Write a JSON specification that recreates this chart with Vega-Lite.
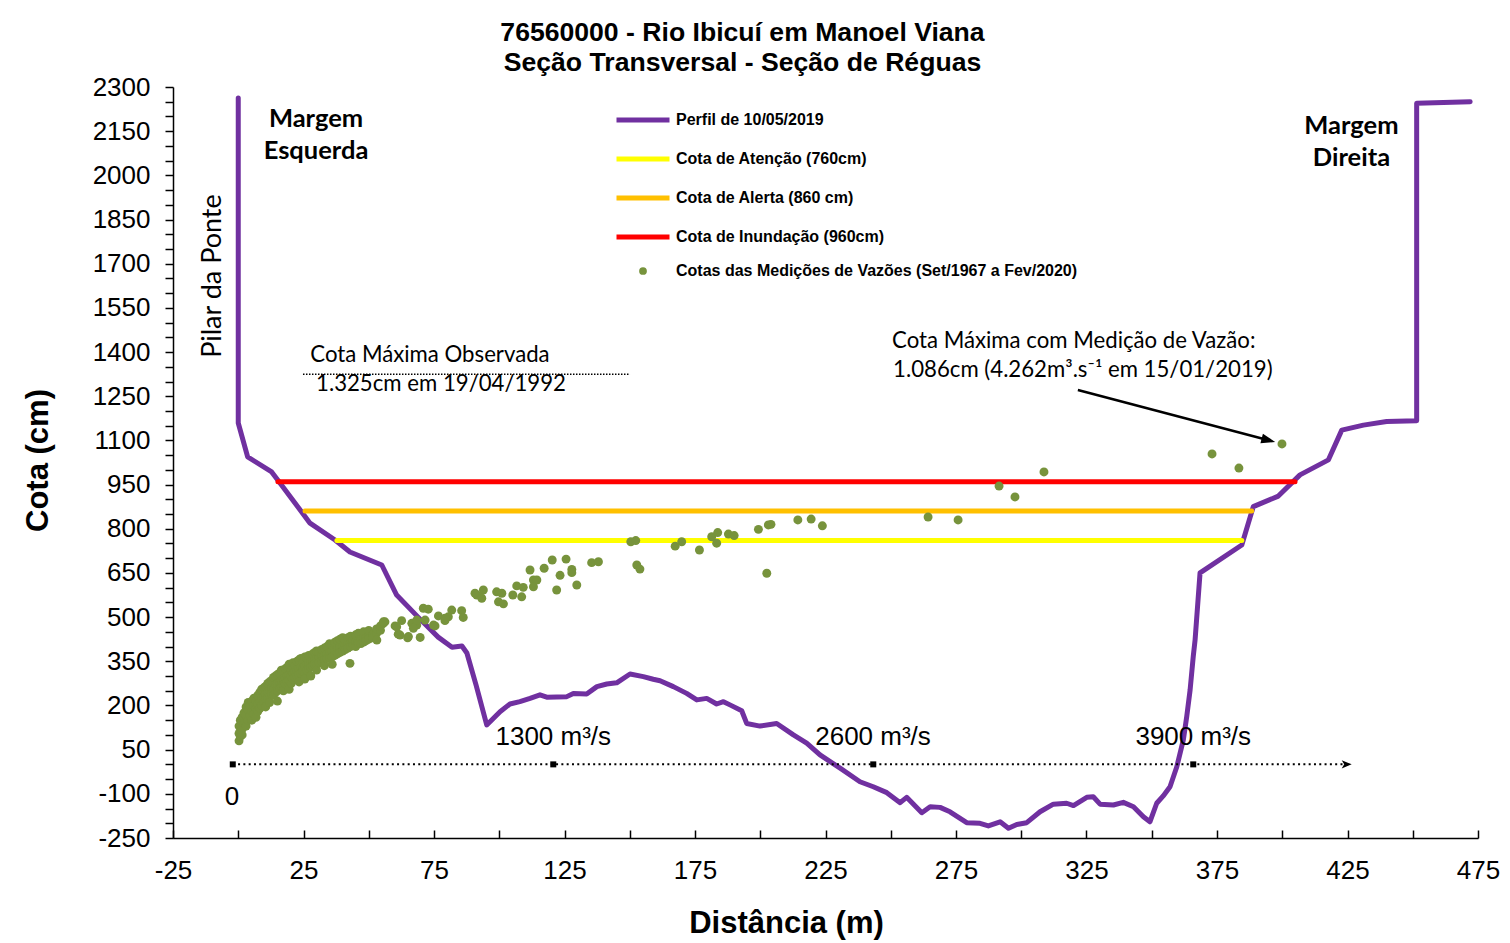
{
"$schema": "https://vega.github.io/schema/vega-lite/v6.json",
"width": 1305, "height": 751,
"autosize": {"type": "none"},
"padding": {"left": 173, "top": 87, "right": 32, "bottom": 105},
"background": "white",
"config": {"view": {"stroke": null}, "font": "Liberation Sans"},
"title": {"text": ["76560000 - Rio Ibicuí em Manoel Viana", "Seção Transversal - Seção de Réguas"], "font": "Liberation Sans", "fontSize": 26.6, "fontWeight": "bold", "color": "black", "anchor": "middle", "dx": -83, "lineHeight": 30, "offset": -3},
"datasets": {
"linhas": [
{"s":"Perfil de 10/05/2019","i":1,"x":0,"y":2263},{"s":"Perfil de 10/05/2019","i":2,"x":0,"y":1159},{"s":"Perfil de 10/05/2019","i":3,"x":3.6,"y":1044},{"s":"Perfil de 10/05/2019","i":4,"x":12.8,"y":993},{"s":"Perfil de 10/05/2019","i":5,"x":15.2,"y":965},{"s":"Perfil de 10/05/2019","i":6,"x":27.5,"y":819},{"s":"Perfil de 10/05/2019","i":7,"x":37.1,"y":762},{"s":"Perfil de 10/05/2019","i":8,"x":42.8,"y":721},{"s":"Perfil de 10/05/2019","i":9,"x":55,"y":677},{"s":"Perfil de 10/05/2019","i":10,"x":60.7,"y":575},{"s":"Perfil de 10/05/2019","i":11,"x":68.9,"y":500},{"s":"Perfil de 10/05/2019","i":12,"x":76.6,"y":432},{"s":"Perfil de 10/05/2019","i":13,"x":81.9,"y":398},{"s":"Perfil de 10/05/2019","i":14,"x":85.7,"y":402},{"s":"Perfil de 10/05/2019","i":15,"x":87.6,"y":378},{"s":"Perfil de 10/05/2019","i":16,"x":91.1,"y":270},{"s":"Perfil de 10/05/2019","i":17,"x":95.2,"y":134},{"s":"Perfil de 10/05/2019","i":18,"x":100.3,"y":179},{"s":"Perfil de 10/05/2019","i":19,"x":104.1,"y":205},{"s":"Perfil de 10/05/2019","i":20,"x":107.9,"y":213},{"s":"Perfil de 10/05/2019","i":21,"x":111.8,"y":224},{"s":"Perfil de 10/05/2019","i":22,"x":115.6,"y":236},{"s":"Perfil de 10/05/2019","i":23,"x":118.2,"y":228},{"s":"Perfil de 10/05/2019","i":24,"x":125.9,"y":230},{"s":"Perfil de 10/05/2019","i":25,"x":128.4,"y":241},{"s":"Perfil de 10/05/2019","i":26,"x":133.5,"y":239},{"s":"Perfil de 10/05/2019","i":27,"x":137.4,"y":264},{"s":"Perfil de 10/05/2019","i":28,"x":141.2,"y":273},{"s":"Perfil de 10/05/2019","i":29,"x":145,"y":277},{"s":"Perfil de 10/05/2019","i":30,"x":150.1,"y":307},{"s":"Perfil de 10/05/2019","i":31,"x":155.2,"y":298},{"s":"Perfil de 10/05/2019","i":32,"x":159,"y":289},{"s":"Perfil de 10/05/2019","i":33,"x":161.6,"y":284},{"s":"Perfil de 10/05/2019","i":34,"x":166.7,"y":264},{"s":"Perfil de 10/05/2019","i":35,"x":171.8,"y":241},{"s":"Perfil de 10/05/2019","i":36,"x":175.7,"y":219},{"s":"Perfil de 10/05/2019","i":37,"x":179.5,"y":224},{"s":"Perfil de 10/05/2019","i":38,"x":183.3,"y":205},{"s":"Perfil de 10/05/2019","i":39,"x":185.9,"y":213},{"s":"Perfil de 10/05/2019","i":40,"x":188.4,"y":202},{"s":"Perfil de 10/05/2019","i":41,"x":192.9,"y":182},{"s":"Perfil de 10/05/2019","i":42,"x":194.8,"y":139},{"s":"Perfil de 10/05/2019","i":43,"x":199.9,"y":130},{"s":"Perfil de 10/05/2019","i":44,"x":206.3,"y":139},{"s":"Perfil de 10/05/2019","i":45,"x":212.7,"y":100},{"s":"Perfil de 10/05/2019","i":46,"x":217.8,"y":72},{"s":"Perfil de 10/05/2019","i":47,"x":222.9,"y":32},{"s":"Perfil de 10/05/2019","i":48,"x":230.6,"y":-13},{"s":"Perfil de 10/05/2019","i":49,"x":238.2,"y":-59},{"s":"Perfil de 10/05/2019","i":50,"x":243.3,"y":-76},{"s":"Perfil de 10/05/2019","i":51,"x":248.5,"y":-96},{"s":"Perfil de 10/05/2019","i":52,"x":253.6,"y":-130},{"s":"Perfil de 10/05/2019","i":53,"x":256.1,"y":-112},{"s":"Perfil de 10/05/2019","i":54,"x":261.9,"y":-164},{"s":"Perfil de 10/05/2019","i":55,"x":265.1,"y":-144},{"s":"Perfil de 10/05/2019","i":56,"x":268.9,"y":-146},{"s":"Perfil de 10/05/2019","i":57,"x":272.7,"y":-161},{"s":"Perfil de 10/05/2019","i":58,"x":279.1,"y":-198},{"s":"Perfil de 10/05/2019","i":59,"x":284.2,"y":-200},{"s":"Perfil de 10/05/2019","i":60,"x":287.4,"y":-209},{"s":"Perfil de 10/05/2019","i":61,"x":291.9,"y":-195},{"s":"Perfil de 10/05/2019","i":62,"x":295.1,"y":-217},{"s":"Perfil de 10/05/2019","i":63,"x":298.3,"y":-204},{"s":"Perfil de 10/05/2019","i":64,"x":302.1,"y":-198},{"s":"Perfil de 10/05/2019","i":65,"x":307.2,"y":-161},{"s":"Perfil de 10/05/2019","i":66,"x":312.3,"y":-135},{"s":"Perfil de 10/05/2019","i":67,"x":317.4,"y":-132},{"s":"Perfil de 10/05/2019","i":68,"x":320,"y":-140},{"s":"Perfil de 10/05/2019","i":69,"x":325.1,"y":-112},{"s":"Perfil de 10/05/2019","i":70,"x":327.6,"y":-110},{"s":"Perfil de 10/05/2019","i":71,"x":330.2,"y":-135},{"s":"Perfil de 10/05/2019","i":72,"x":335.3,"y":-138},{"s":"Perfil de 10/05/2019","i":73,"x":339.1,"y":-129},{"s":"Perfil de 10/05/2019","i":74,"x":343,"y":-144},{"s":"Perfil de 10/05/2019","i":75,"x":346.8,"y":-178},{"s":"Perfil de 10/05/2019","i":76,"x":349.3,"y":-195},{"s":"Perfil de 10/05/2019","i":77,"x":351.9,"y":-132},{"s":"Perfil de 10/05/2019","i":78,"x":354.4,"y":-107},{"s":"Perfil de 10/05/2019","i":79,"x":357,"y":-76},{"s":"Perfil de 10/05/2019","i":80,"x":359.6,"y":-8},{"s":"Perfil de 10/05/2019","i":81,"x":362.1,"y":83},{"s":"Perfil de 10/05/2019","i":82,"x":363.4,"y":162},{"s":"Perfil de 10/05/2019","i":83,"x":364.7,"y":253},{"s":"Perfil de 10/05/2019","i":84,"x":365.9,"y":366},{"s":"Perfil de 10/05/2019","i":85,"x":366.6,"y":422},{"s":"Perfil de 10/05/2019","i":86,"x":368.5,"y":650},{"s":"Perfil de 10/05/2019","i":87,"x":384.5,"y":745},{"s":"Perfil de 10/05/2019","i":88,"x":388.9,"y":875},{"s":"Perfil de 10/05/2019","i":89,"x":398.5,"y":911},{"s":"Perfil de 10/05/2019","i":90,"x":406.8,"y":983},{"s":"Perfil de 10/05/2019","i":91,"x":417.7,"y":1034},{"s":"Perfil de 10/05/2019","i":92,"x":422.8,"y":1135},{"s":"Perfil de 10/05/2019","i":93,"x":431.1,"y":1152},{"s":"Perfil de 10/05/2019","i":94,"x":440,"y":1164},{"s":"Perfil de 10/05/2019","i":95,"x":451.5,"y":1167},{"s":"Perfil de 10/05/2019","i":96,"x":451.5,"y":2245},{"s":"Perfil de 10/05/2019","i":97,"x":472,"y":2250},
{"s":"Cota de Atenção (760cm)","i":1,"x":37.8,"y":760},{"s":"Cota de Atenção (760cm)","i":2,"x":384.5,"y":760},
{"s":"Cota de Alerta (860 cm)","i":1,"x":25.6,"y":860},{"s":"Cota de Alerta (860 cm)","i":2,"x":388.3,"y":860},
{"s":"Cota de Inundação (960cm)","i":1,"x":15.2,"y":960},{"s":"Cota de Inundação (960cm)","i":2,"x":404.9,"y":960}
],
"pontos": [
{"x":0.3,"y":80},{"x":0.3,"y":105},{"x":0.3,"y":130},{"x":0.8,"y":95},{"x":0.8,"y":150},{"x":1.5,"y":120},{"x":1.5,"y":160},{"x":1.5,"y":100},{"x":2.2,"y":140},{"x":2.2,"y":175},{"x":3,"y":130},{"x":3,"y":165},{"x":3,"y":195},{"x":3.8,"y":150},{"x":3.8,"y":185},{"x":3.8,"y":210},{"x":4.5,"y":165},{"x":4.5,"y":200},{"x":5.2,"y":180},{"x":5.2,"y":150},{"x":5.2,"y":215},{"x":6,"y":170},{"x":6,"y":200},{"x":6,"y":225},{"x":6.8,"y":190},{"x":6.8,"y":215},{"x":6.8,"y":160},{"x":7.5,"y":205},{"x":7.5,"y":235},{"x":7.5,"y":180},{"x":8.3,"y":215},{"x":8.3,"y":245},{"x":8.3,"y":190},{"x":9,"y":225},{"x":9,"y":200},{"x":9,"y":255},{"x":9.8,"y":230},{"x":9.8,"y":210},{"x":9.8,"y":260},{"x":10.5,"y":240},{"x":10.5,"y":220},{"x":10.5,"y":265},{"x":10.5,"y":195},{"x":11.3,"y":245},{"x":11.3,"y":225},{"x":11.3,"y":275},{"x":12,"y":250},{"x":12,"y":230},{"x":12,"y":280},{"x":12,"y":210},{"x":12.8,"y":260},{"x":12.8,"y":240},{"x":12.8,"y":285},{"x":13.5,"y":255},{"x":13.5,"y":235},{"x":13.5,"y":295},{"x":14.3,"y":270},{"x":14.3,"y":245},{"x":14.3,"y":300},{"x":15,"y":275},{"x":15,"y":250},{"x":15,"y":305},{"x":15,"y":215},{"x":15.8,"y":280},{"x":15.8,"y":260},{"x":15.8,"y":310},{"x":16.5,"y":285},{"x":16.5,"y":265},{"x":16.5,"y":320},{"x":17.3,"y":290},{"x":17.3,"y":270},{"x":17.3,"y":250},{"x":18,"y":295},{"x":18,"y":275},{"x":18,"y":325},{"x":18.8,"y":300},{"x":18.8,"y":280},{"x":18.8,"y":330},{"x":19.5,"y":305},{"x":19.5,"y":285},{"x":19.5,"y":340},{"x":19.5,"y":255},{"x":20.3,"y":300},{"x":20.3,"y":320},{"x":20.3,"y":275},{"x":21,"y":310},{"x":21,"y":290},{"x":21,"y":345},{"x":21.8,"y":315},{"x":21.8,"y":295},{"x":21.8,"y":335},{"x":22.5,"y":320},{"x":22.5,"y":300},{"x":22.5,"y":350},{"x":23.3,"y":325},{"x":23.3,"y":305},{"x":23.3,"y":355},{"x":23.3,"y":280},{"x":24,"y":330},{"x":24,"y":310},{"x":24,"y":360},{"x":24.8,"y":330},{"x":24.8,"y":315},{"x":24.8,"y":345},{"x":25.5,"y":335},{"x":25.5,"y":310},{"x":25.5,"y":365},{"x":25.5,"y":290},{"x":26.3,"y":340},{"x":26.3,"y":320},{"x":26.3,"y":360},{"x":27,"y":345},{"x":27,"y":325},{"x":27,"y":370},{"x":27.8,"y":350},{"x":27.8,"y":330},{"x":27.8,"y":300},{"x":28.5,"y":350},{"x":28.5,"y":335},{"x":28.5,"y":375},{"x":29.3,"y":355},{"x":29.3,"y":340},{"x":29.3,"y":380},{"x":30,"y":360},{"x":30,"y":340},{"x":30,"y":385},{"x":30,"y":320},{"x":31,"y":365},{"x":31,"y":345},{"x":31,"y":380},{"x":32,"y":370},{"x":32,"y":350},{"x":32,"y":390},{"x":33,"y":370},{"x":33,"y":355},{"x":33,"y":395},{"x":33,"y":335},{"x":34,"y":375},{"x":34,"y":360},{"x":34,"y":400},{"x":35,"y":380},{"x":35,"y":360},{"x":35,"y":410},{"x":36,"y":385},{"x":36,"y":365},{"x":36,"y":405},{"x":36,"y":340},{"x":37,"y":390},{"x":37,"y":370},{"x":37,"y":415},{"x":38,"y":395},{"x":38,"y":375},{"x":38,"y":420},{"x":39,"y":400},{"x":39,"y":380},{"x":39,"y":425},{"x":40,"y":400},{"x":40,"y":385},{"x":40,"y":430},{"x":41,"y":405},{"x":41,"y":390},{"x":41,"y":420},{"x":42,"y":410},{"x":42,"y":395},{"x":42,"y":430},{"x":42.8,"y":343},{"x":43,"y":410},{"x":43,"y":400},{"x":43,"y":435},{"x":44,"y":415},{"x":44,"y":405},{"x":44,"y":425},{"x":45,"y":415},{"x":45,"y":400},{"x":45,"y":440},{"x":46,"y":420},{"x":46,"y":410},{"x":46,"y":445},{"x":47,"y":425},{"x":47,"y":410},{"x":48,"y":430},{"x":48,"y":415},{"x":48,"y":450},{"x":49,"y":430},{"x":49,"y":420},{"x":50,"y":435},{"x":50,"y":425},{"x":50,"y":455},{"x":51.5,"y":440},{"x":51.5,"y":430},{"x":53,"y":445},{"x":53,"y":460},{"x":54.5,"y":455},{"x":54.5,"y":470},{"x":55.5,"y":478},
{"x":56.2,"y":484},{"x":60.1,"y":470},{"x":61.3,"y":442},{"x":62.6,"y":488},{"x":64.9,"y":430},{"x":66.5,"y":479},{"x":68.4,"y":473},{"x":69.7,"y":431},{"x":70.9,"y":530},{"x":72.8,"y":527},{"x":71.6,"y":490},{"x":76.7,"y":504},{"x":75.4,"y":470},{"x":79.2,"y":488},{"x":81.8,"y":524},{"x":80.5,"y":501},{"x":85.6,"y":522},{"x":86.2,"y":499},{"x":90.7,"y":581},
{"x":53.1,"y":422},{"x":55.6,"y":484},{"x":60.7,"y":467},{"x":62,"y":439},{"x":65.2,"y":434},{"x":67.1,"y":462},{"x":68.4,"y":490},{"x":74.8,"y":473},{"x":79.2,"y":496},
{"x":91.4,"y":575},{"x":93.9,"y":592},{"x":93.3,"y":564},{"x":99,"y":586},{"x":101,"y":581},{"x":99.7,"y":552},{"x":101.6,"y":545},{"x":105.2,"y":575},{"x":106.7,"y":606},{"x":108.6,"y":569},{"x":109.2,"y":601},{"x":111.8,"y":660},{"x":113.1,"y":626},{"x":114.4,"y":626},{"x":113.1,"y":603},{"x":117.2,"y":666},{"x":120.3,"y":694},{"x":125.6,"y":697},{"x":123.3,"y":642},{"x":122,"y":592},{"x":127.8,"y":662},{"x":127.8,"y":651},{"x":129.7,"y":609},{"x":135.4,"y":685},{"x":138,"y":688},{"x":150.4,"y":756},{"x":152.3,"y":760},{"x":152.7,"y":677},{"x":153.9,"y":663},{"x":167.4,"y":741},{"x":169.9,"y":756},{"x":176.7,"y":728},{"x":181.4,"y":773},{"x":183.7,"y":787},{"x":183.3,"y":751},{"x":187.8,"y":782},{"x":190,"y":777},{"x":199.3,"y":798},{"x":203.1,"y":813},{"x":204.1,"y":815},{"x":202.5,"y":649},{"x":214.4,"y":830},{"x":219.5,"y":833},{"x":223.8,"y":810},
{"x":264.3,"y":840},{"x":275.8,"y":830},{"x":291.5,"y":945},{"x":297.6,"y":908},{"x":308.7,"y":993},{"x":373.1,"y":1054},{"x":383.4,"y":1006},{"x":399.9,"y":1088}
]
},
"encoding": {
"x": {"field": "x", "type": "quantitative", "scale": {"domain": [-25, 475], "nice": false, "zero": false},
 "axis": {"title": "Distância (m)", "values": [-25,0,25,50,75,100,125,150,175,200,225,250,275,300,325,350,375,400,425,450,475], "labelExpr": "(datum.value + 25) % 50 === 0 ? '' + datum.value : ''", "grid": false, "domainColor": "black", "domainWidth": 1.5, "tickColor": "black", "tickWidth": 1.5, "tickSize": -8, "labelPadding": 27, "labelFont": "Liberation Sans", "labelFontSize": 26, "labelColor": "black", "labelFlush": false, "labelOverlap": false, "titleFont": "Liberation Sans", "titleFontSize": 31, "titleFontWeight": "bold", "titleColor": "black", "titleX": 613, "titleY": 85, "titleBaseline": "middle", "titleAlign": "center"}},
"y": {"field": "y", "type": "quantitative", "scale": {"domain": [-250, 2300], "nice": false, "zero": false},
 "axis": {"title": "Cota (cm)", "values": [-250,-200,-150,-100,-50,0,50,100,150,200,250,300,350,400,450,500,550,600,650,700,750,800,850,900,950,1000,1050,1100,1150,1200,1250,1300,1350,1400,1450,1500,1550,1600,1650,1700,1750,1800,1850,1900,1950,2000,2050,2100,2150,2200,2250,2300], "labelExpr": "(datum.value + 250) % 150 === 0 ? '' + datum.value : ''", "grid": false, "domainColor": "black", "domainWidth": 1.5, "tickColor": "black", "tickWidth": 1.5, "tickSize": 8, "labelPadding": 15, "labelFont": "Liberation Sans", "labelFontSize": 26, "labelColor": "black", "labelFlush": false, "labelOverlap": false, "titleFont": "Liberation Sans", "titleFontSize": 31, "titleFontWeight": "bold", "titleColor": "black", "titleX": -135, "titleY": 373, "titleAngle": 270, "titleBaseline": "middle", "titleAlign": "center"}}
},
"layer": [
{"data": {"name": "linhas"}, "mark": {"type": "line", "strokeWidth": 5, "strokeCap": "round", "strokeJoin": "round"},
 "encoding": {"order": {"field": "i", "type": "quantitative"},
  "color": {"field": "s", "type": "nominal", "scale": {"domain": ["Perfil de 10/05/2019", "Cota de Atenção (760cm)", "Cota de Alerta (860 cm)", "Cota de Inundação (960cm)"], "range": ["#7030A0", "#FFFF00", "#FFC000", "#FF0000"]},
   "legend": {"orient": "none", "legendX": 441, "legendY": 4, "title": null, "symbolType": "stroke", "symbolSize": 2809, "symbolStrokeWidth": 5, "labelFont": "Liberation Sans", "labelFontSize": 16, "labelFontWeight": "bold", "labelColor": "black", "labelOffset": 4, "rowPadding": -2.6, "labelLimit": 800, "padding": 0}}}},
{"data": {"values": [{"x": 24.8, "x2": 150.1, "y": 1325}]}, "mark": {"type": "rule", "color": "black", "strokeWidth": 1.5, "strokeDash": [1.5, 1.5]}, "encoding": {"x2": {"field": "x2"}}},
{"data": {"values": [{"x": -2.1, "x2": 424, "y": 0}]}, "mark": {"type": "rule", "color": "black", "strokeWidth": 2, "strokeDash": [2, 3.3]}, "encoding": {"x2": {"field": "x2"}}},
{"data": {"values": [{"x": -2.1, "y": 0}, {"x": 120.7, "y": 0}, {"x": 243.3, "y": 0}, {"x": 365.9, "y": 0}]}, "mark": {"type": "point", "shape": "square", "filled": true, "color": "black", "size": 36, "opacity": 1}},
{"data": {"values": [{"x": 426.6, "y": 0}]}, "mark": {"type": "point", "shape": "M0,0L-1.2,-0.5L-0.9,0L-1.2,0.5Z", "filled": true, "color": "black", "size": 276, "opacity": 1}},
{"data": {"values": [{"x": 321.7, "y": 1271, "x2": 395.5, "y2": 1099}]}, "mark": {"type": "rule", "color": "black", "strokeWidth": 2.5}, "encoding": {"x2": {"field": "x2"}, "y2": {"field": "y2"}}},
{"data": {"values": [{"x": 397.3, "y": 1094.6}]}, "mark": {"type": "point", "shape": "M0,0L-2,-0.7L-2,0.7Z", "filled": true, "color": "black", "size": 196, "angle": 14.8, "opacity": 1}},
{"data": {"name": "pontos"}, "transform": [{"calculate": "'Cotas das Medições de Vazões (Set/1967 a Fev/2020)'", "as": "s"}], "mark": {"type": "point", "filled": true, "color": "#77933C", "size": 80, "opacity": 1},
 "encoding": {"shape": {"field": "s", "type": "nominal", "scale": {"range": ["circle"]},
  "legend": {"orient": "none", "legendX": 462, "legendY": 176, "title": null, "symbolSize": 60, "symbolFillColor": "#77933C", "symbolStrokeWidth": 0, "labelFont": "Liberation Sans", "labelFontSize": 16, "labelFontWeight": "bold", "labelColor": "black", "labelOffset": 25, "labelLimit": 800, "padding": 0}}}},
{"data": {"values": [{"x": 29.8, "y": 2191, "t": "Margem"}, {"x": 29.8, "y": 2083, "t": "Esquerda"}, {"x": 426.5, "y": 2167, "t": "Margem"}, {"x": 426.5, "y": 2059, "t": "Direita"}]}, "mark": {"type": "text", "font": "Lato", "fontSize": 25.5, "fontWeight": "bold", "color": "black", "align": "center", "baseline": "middle"}, "encoding": {"text": {"field": "t"}}},
{"data": {"values": [{"x": -9.65, "y": 1658, "t": "Pilar da Ponte"}]}, "mark": {"type": "text", "font": "Lato", "fontSize": 27, "color": "black", "align": "center", "baseline": "middle", "angle": 270}, "encoding": {"text": {"field": "t"}}},
{"data": {"values": [{"x": 27.6, "y": 1390, "t": "Cota Máxima Observada"}, {"x": 29.8, "y": 1292, "t": "1.325cm em 19/04/1992"}, {"x": 250.5, "y": 1437, "t": "Cota Máxima com Medição de Vazão:"}, {"x": 250.9, "y": 1339, "t": "1.086cm (4.262m³.s⁻¹ em 15/01/2019)"}]}, "mark": {"type": "text", "font": "Lato", "fontSize": 22.2, "color": "black", "align": "left", "baseline": "middle"}, "encoding": {"text": {"field": "t"}}},
{"data": {"values": [{"x": -2.4, "y": -111, "t": "0"}, {"x": 120.7, "y": 93, "t": "1300 m³/s"}, {"x": 243.2, "y": 93, "t": "2600 m³/s"}, {"x": 365.9, "y": 93, "t": "3900 m³/s"}]}, "mark": {"type": "text", "font": "Liberation Sans", "fontSize": 26, "color": "black", "align": "center", "baseline": "middle"}, "encoding": {"text": {"field": "t"}}}
]
}
